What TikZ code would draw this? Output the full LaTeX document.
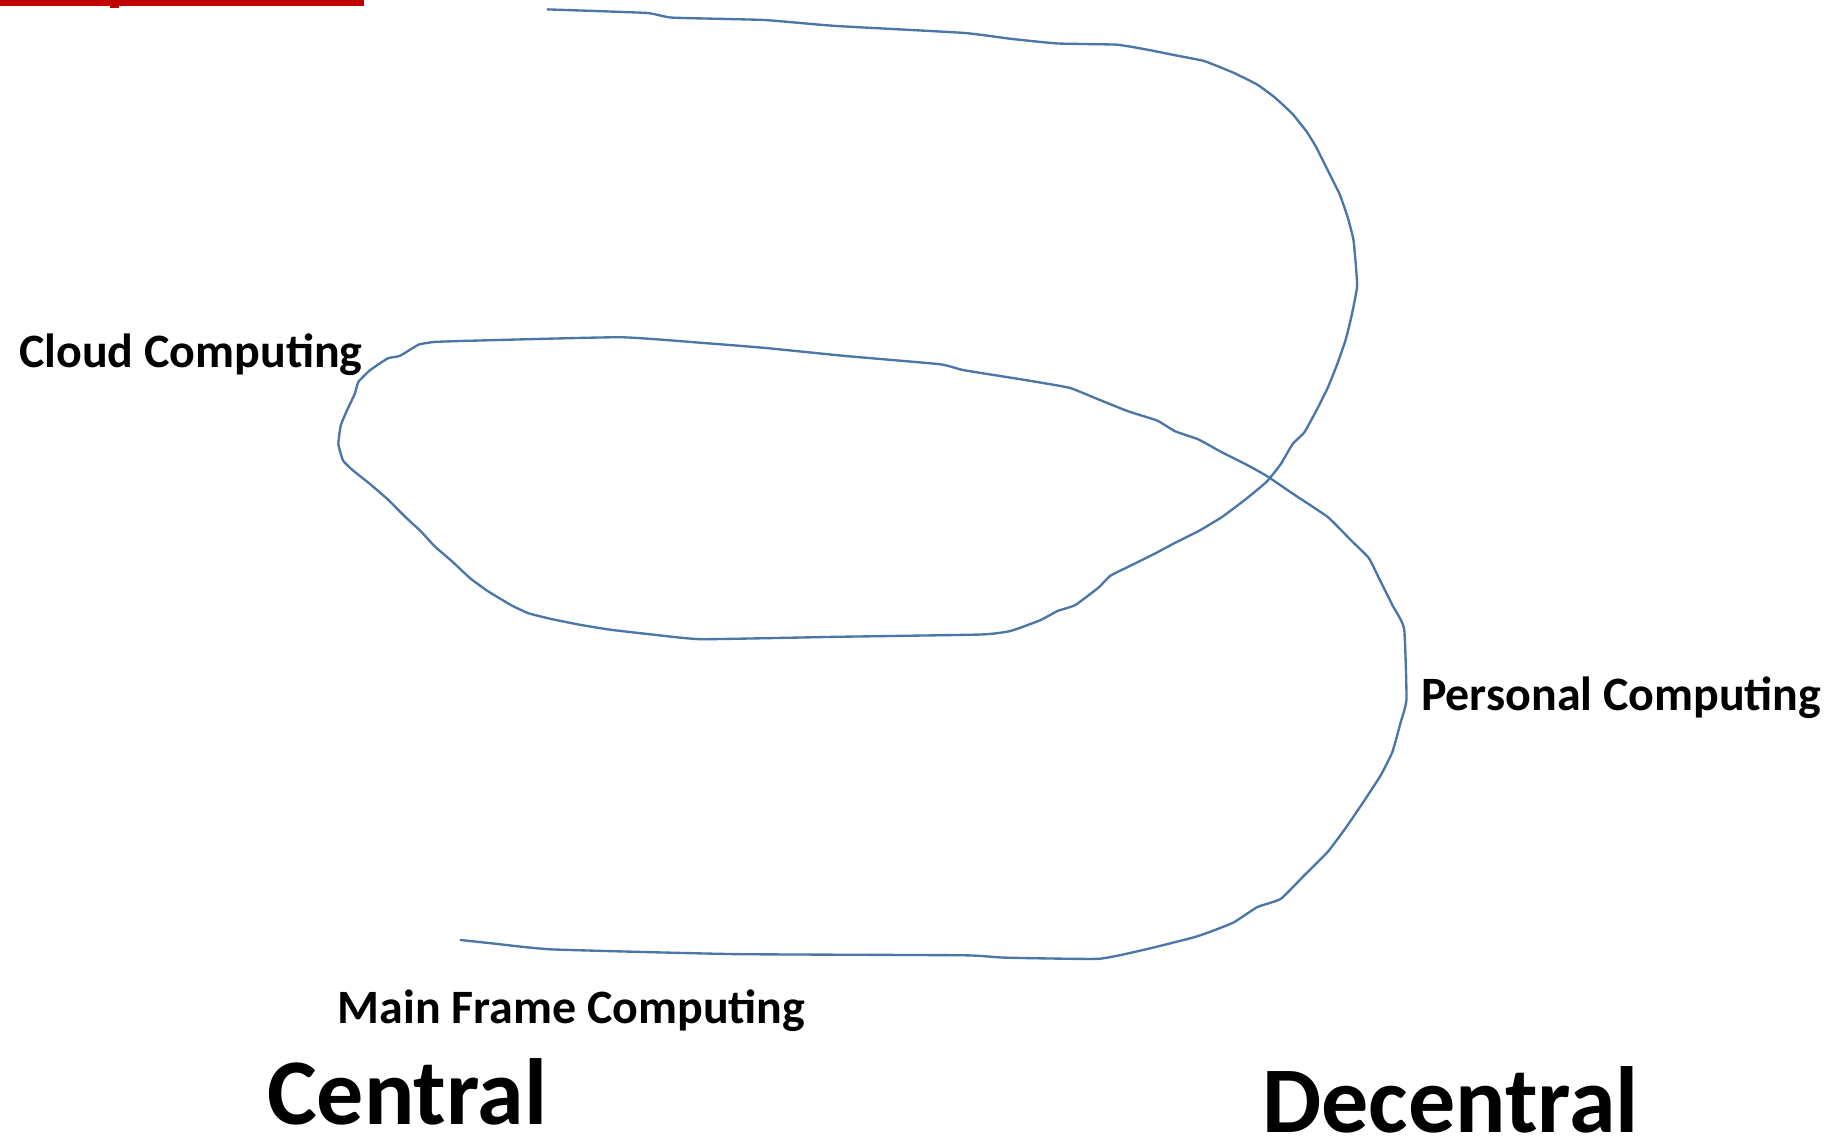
\documentclass[tikz,border=0pt]{standalone}
\usepackage{fontspec}
\setmainfont{Carlito}
\begin{document}
\begin{tikzpicture}[x=0.5pt,y=-0.5pt,
  lbl/.style={anchor=base west,inner sep=0pt,font=\bfseries\fontsize{20.4}{24}\selectfont},
  big/.style={anchor=base west,inner sep=0pt,font=\bfseries\fontsize{40}{46}\selectfont},
  curve/.style={draw=spiral,line width=1pt,line join=round,line cap=round}]
\definecolor{spiral}{RGB}{74,118,168}
\definecolor{redbar}{RGB}{192,0,0}
\useasboundingbox (0,0) rectangle (1560,975);
% red bar at top
\fill[redbar] (0,0) rectangle (310,5);
\fill[redbar] (94,0) rectangle (101,7);
% spiral
\draw[curve] plot[smooth,tension=0.25] coordinates {
(466,8) (550,11) (572,15) (650,17) (710,22) (820,28) (860,33) (900,37) (950,38) (975,42)
(1000,47) (1025,52) (1050,62) (1070,72) (1085,83) (1100,97) (1112,112) (1120,125) (1130,145)
(1140,165) (1147,185) (1152,205) (1155,243) (1150,270) (1145,290) (1138,310) (1130,330)
(1120,350) (1110,368) (1100,378) (1090,395) (1078,410) (1060,425) (1040,440) (1020,452)
(1000,462) (985,470) (965,480) (945,490) (935,500) (915,515) (900,520) (885,528) (860,537)
(835,540) (710,542) (597,544) (555,540) (520,536) (495,532) (470,527) (450,522) (435,515)
(415,503) (400,492) (385,478) (370,465) (358,452) (345,440) (330,425) (315,412) (300,400)
(292,392) (288,378) (290,362) (295,350) (302,335) (305,325) (315,315) (330,305) (340,303)
(350,297) (357,293) (370,291) (400,290) (528,287) (600,292) (650,296) (720,303) (800,310)
(820,315) (870,323) (910,330) (935,340) (960,350) (985,358) (1000,367) (1020,374) (1040,385)
(1060,395) (1078,405) (1100,420) (1130,440) (1150,460) (1165,475) (1175,495) (1185,515)
(1195,535) (1197,595) (1192,615) (1185,640) (1175,660) (1160,683) (1145,705) (1130,725)
(1110,745) (1090,765) (1070,772) (1050,785) (1030,793) (1015,798) (975,808) (935,816)
(855,815) (820,813) (625,812) (470,808) (420,803) (392,800)};
% labels
\node[lbl] (cloud) at (16,313) {Cloud Computing};
\node[lbl] (personal) at (1209,605) {Personal Computing};
\node[lbl] (mainframe) at (287,871) {Main Frame Computing};
\node[big] (central) at (227,957) {Central};
\node[big] (decentral) at (1074,964) {Decentral};
\end{tikzpicture}
\end{document}
